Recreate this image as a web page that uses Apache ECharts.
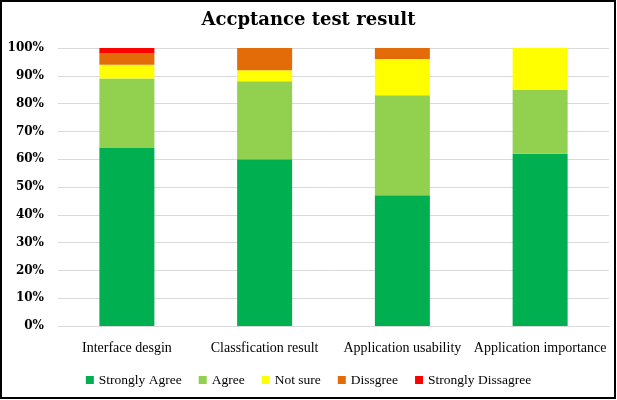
<!DOCTYPE html>
<html>
<head>
<meta charset="utf-8">
<script src="https://cdn.jsdelivr.net/npm/echarts@6/dist/echarts.min.js"></script>
<style>
  html, body { margin: 0; padding: 0; background: #fff; }
  #main { width: 617px; height: 400px; }
</style>
</head>
<body>
<div id="main"></div>
<script>
var categories = ['Interface desgin', 'Classfication result', 'Application usability', 'Application importance'];
var stronglyAgree = [64, 60, 47, 62];
var agree = [25, 28, 36, 23];
var notSure = [5, 4, 13, 15];
var disagree = [4, 8, 4, 0];
var stronglyDisagree = [2, 0, 0, 0];
var yTicks = [0, 10, 20, 30, 40, 50, 60, 70, 80, 90, 100];

var serif = 'Liberation Serif';

function bar(name, data, color) {
    return {
        name: name,
        type: 'bar',
        stack: 'total',
        barWidth: 55,
        itemStyle: { color: color },
        data: data
    };
}

var chart = echarts.init(document.getElementById('main'));

var option = {
    animation: false,
    title: {
        text: 'Accptance test result',
        left: 'center',
        top: 6,
        textStyle: { fontFamily: 'DejaVu Serif', fontSize: 18, fontWeight: 'bold', color: '#000' }
    },
    graphic: [{
        type: 'rect',
        shape: { x: 1, y: 1, width: 614, height: 397 },
        style: { fill: 'none', stroke: '#000', lineWidth: 2 },
        silent: true
    }],
    legend: {
        bottom: 8,
        left: 'center',
        itemWidth: 8,
        itemHeight: 8,
        itemGap: 17,
        icon: 'rect',
        textStyle: { fontFamily: serif, fontSize: 13.5, color: '#000' },
        data: ['Strongly Agree', 'Agree', 'Not sure', 'Dissgree', 'Strongly Dissagree']
    },
    grid: { left: 58, right: 8, top: 48, bottom: 74 },
    xAxis: {
        type: 'category',
        data: categories,
        axisTick: { show: false },
        axisLine: { lineStyle: { color: '#d9d9d9' } },
        axisLabel: { fontFamily: serif, fontSize: 14, color: '#000', margin: 15, interval: 0 }
    },
    yAxis: {
        type: 'value',
        min: yTicks[0],
        max: yTicks[yTicks.length - 1],
        interval: 10,
        axisLine: { show: false },
        axisTick: { show: false },
        splitLine: { lineStyle: { color: '#d9d9d9' } },
        axisLabel: {
            fontFamily: 'DejaVu Serif',
            fontSize: 12,
            fontWeight: 'bold',
            color: '#000',
            margin: 14,
            formatter: function (v) { return v + '%'; }
        }
    },
    series: [
        bar('Strongly Agree', stronglyAgree, '#00b050'),
        bar('Agree', agree, '#92d050'),
        bar('Not sure', notSure, '#ffff00'),
        bar('Dissgree', disagree, '#e36c09'),
        bar('Strongly Dissagree', stronglyDisagree, '#ff0000')
    ]
};

chart.setOption(option);
</script>
</body>
</html>
